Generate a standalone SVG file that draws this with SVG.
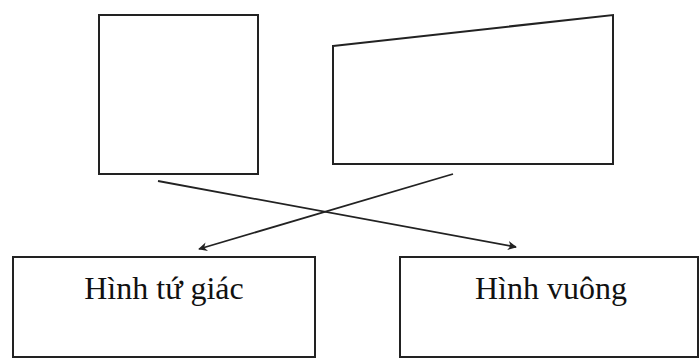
<svg xmlns="http://www.w3.org/2000/svg" width="699" height="360" viewBox="0 0 699 360">
<style>
.s{fill:#fff;stroke:#222;stroke-width:2}
.c{fill:none;stroke:#222;stroke-width:1.8}
.t{font-family:"Liberation Serif",serif;font-size:32px;fill:#111;text-anchor:middle}
</style>
<defs>
<marker id="ah" viewBox="0 0 10 10" refX="9" refY="5" markerWidth="9" markerHeight="9" orient="auto" markerUnits="userSpaceOnUse">
<path d="M0,0 L10,5 L0,10 L3,5 Z" fill="#222"/>
</marker>
</defs>
<rect width="699" height="360" fill="#fff"/>
<g id="square"><rect class="s" x="99" y="15" width="159" height="159"/></g>
<g id="trapezoid"><polygon class="s" points="333,46 613,15 613,164 333,164"/></g>
<g id="hinh-tu-giac"><rect class="s" x="13" y="257" width="302" height="100"/><text class="t" x="164" y="299">Hình tứ giác</text></g>
<g id="hinh-vuong"><rect class="s" x="400" y="257" width="298" height="100"/><text class="t" x="551" y="299">Hình vuông</text></g>
<g id="connectors">
<line class="c" x1="158" y1="181" x2="516" y2="247" marker-end="url(#ah)"/>
<line class="c" x1="453" y1="174" x2="199" y2="249" marker-end="url(#ah)"/>
</g>
</svg>
